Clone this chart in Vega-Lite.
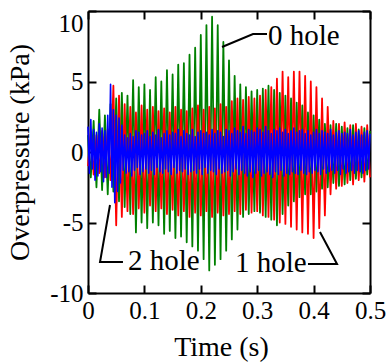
{
  "$schema": "https://vega.github.io/schema/vega-lite/v6.json",
  "autosize": {"type": "none"},
  "padding": {"left": 88, "top": 11, "right": 21, "bottom": 69},
  "width": 282,
  "height": 282,
  "background": "white",
  "config": {
    "font": "Liberation Serif",
    "view": {"stroke": null},
    "axis": {
      "grid": false,
      "domainColor": "black",
      "domainWidth": 2,
      "tickColor": "black",
      "tickWidth": 2,
      "tickSize": -8,
      "labelFont": "Liberation Serif",
      "labelFontSize": 25,
      "labelColor": "black",
      "labelPadding": 13,
      "titleFont": "Liberation Serif",
      "titleFontSize": 28,
      "titleFontWeight": "normal",
      "titleColor": "black"
    }
  },
  "datasets": {
    "main": [
      {"t":0,"g":1.2,"r":-1.0},{"t":0.005,"g":-1.8,"r":1.4},{"t":0.01,"g":2.2,"r":-1.6},{"t":0.015,"g":-2.5,"r":1.2},
      {"t":0.02,"g":3.0,"r":-1.5},{"t":0.025,"g":-2.7,"r":1.5},{"t":0.03,"g":2.6,"r":-1.8},{"t":0.035,"g":-3.0,"r":1.6},
      {"t":0.04,"g":3.4,"r":-2.0},{"t":0.045,"g":-2.8,"r":4.7},{"t":0.05,"g":3.8,"r":-5.2},{"t":0.055,"g":-3.5,"r":4.0},
      {"t":0.06,"g":4.2,"r":-4.6},{"t":0.065,"g":-3.9,"r":3.4},{"t":0.07,"g":4.0,"r":-4.2},{"t":0.075,"g":-4.4,"r":3.2},
      {"t":0.08,"g":5.1,"r":-4.4},{"t":0.085,"g":-5.7,"r":2.8},{"t":0.09,"g":4.6,"r":-4.0},{"t":0.095,"g":-5.0,"r":3.3},
      {"t":0.1,"g":4.8,"r":-4.3},{"t":0.105,"g":-5.4,"r":3.0},{"t":0.11,"g":4.4,"r":-3.8},{"t":0.115,"g":-5.0,"r":3.2},
      {"t":0.12,"g":5.3,"r":-4.2},{"t":0.125,"g":-5.2,"r":2.9},{"t":0.13,"g":5.0,"r":-4.0},{"t":0.135,"g":-5.8,"r":3.1},
      {"t":0.14,"g":5.8,"r":-4.4},{"t":0.145,"g":-5.6,"r":2.8},{"t":0.15,"g":5.5,"r":-4.1},{"t":0.155,"g":-6.1,"r":3.2},
      {"t":0.16,"g":6.2,"r":-4.5},{"t":0.165,"g":-6.0,"r":3.0},{"t":0.17,"g":6.3,"r":-4.2},{"t":0.175,"g":-6.4,"r":2.9},
      {"t":0.18,"g":6.9,"r":-4.6},{"t":0.185,"g":-6.7,"r":3.1},{"t":0.19,"g":7.4,"r":-4.3},{"t":0.195,"g":-7.0,"r":3.3},
      {"t":0.2,"g":8.3,"r":-4.5},{"t":0.205,"g":-7.6,"r":3.0},{"t":0.21,"g":9.0,"r":-4.2},{"t":0.215,"g":-8.4,"r":3.2},
      {"t":0.22,"g":9.6,"r":-4.6},{"t":0.225,"g":-8.0,"r":3.1},{"t":0.23,"g":9.0,"r":-4.3},{"t":0.235,"g":-7.6,"r":3.4},
      {"t":0.24,"g":7.8,"r":-4.5},{"t":0.245,"g":-7.0,"r":3.2},{"t":0.25,"g":6.5,"r":-4.4},{"t":0.255,"g":-6.2,"r":3.6},
      {"t":0.26,"g":5.4,"r":-4.2},{"t":0.265,"g":-5.5,"r":3.8},{"t":0.27,"g":4.8,"r":-4.4},{"t":0.275,"g":-4.6,"r":3.7},
      {"t":0.28,"g":4.6,"r":-4.1},{"t":0.285,"g":-4.4,"r":3.9},{"t":0.29,"g":4.3,"r":-4.3},{"t":0.295,"g":-4.2,"r":3.8},
      {"t":0.3,"g":4.4,"r":-4.2},{"t":0.305,"g":-4.3,"r":4.0},{"t":0.31,"g":4.5,"r":-4.5},{"t":0.315,"g":-4.6,"r":4.4},
      {"t":0.32,"g":4.7,"r":-4.6},{"t":0.325,"g":-4.8,"r":4.6},{"t":0.33,"g":4.4,"r":-4.8},{"t":0.335,"g":-5.2,"r":5.2},
      {"t":0.34,"g":4.2,"r":-5.0},{"t":0.345,"g":-4.4,"r":5.7},{"t":0.35,"g":4.0,"r":-5.1},{"t":0.355,"g":-3.8,"r":5.3},
      {"t":0.36,"g":3.8,"r":-5.3},{"t":0.365,"g":-3.5,"r":5.7},{"t":0.37,"g":3.5,"r":-5.5},{"t":0.375,"g":-3.2,"r":5.7},
      {"t":0.38,"g":3.3,"r":-5.7},{"t":0.385,"g":-3.0,"r":5.4},{"t":0.39,"g":2.8,"r":-5.8},{"t":0.395,"g":-3.0,"r":5.0},
      {"t":0.4,"g":2.6,"r":-6.1},{"t":0.405,"g":-2.8,"r":4.6},{"t":0.41,"g":2.3,"r":-5.4},{"t":0.415,"g":-2.6,"r":3.8},
      {"t":0.42,"g":2.0,"r":-4.5},{"t":0.425,"g":-2.5,"r":3.2},{"t":0.43,"g":1.9,"r":-3.0},{"t":0.435,"g":-2.2,"r":2.2},
      {"t":0.44,"g":2.0,"r":-2.6},{"t":0.445,"g":-2.4,"r":2.0},{"t":0.45,"g":1.8,"r":-2.4},{"t":0.455,"g":-2.3,"r":2.1},
      {"t":0.46,"g":1.7,"r":-2.2},{"t":0.465,"g":-2.0,"r":1.9},{"t":0.47,"g":1.9,"r":-2.3},{"t":0.475,"g":-1.9,"r":2.0},
      {"t":0.48,"g":1.6,"r":-2.0},{"t":0.485,"g":-1.8,"r":1.8},{"t":0.49,"g":1.7,"r":-2.1},{"t":0.495,"g":-1.6,"r":1.9},
      {"t":0.5,"g":1.5,"r":-1.8}
    ],
    "blue": [
      {"t":0,"b":1.8},{"t":0.0025,"b":-1.5},{"t":0.005,"b":2.3},{"t":0.0075,"b":-1.2},{"t":0.01,"b":1.6},
      {"t":0.0125,"b":-2.0},{"t":0.015,"b":1.4},{"t":0.0175,"b":-1.7},{"t":0.02,"b":2.0},{"t":0.0225,"b":-1.4},
      {"t":0.025,"b":1.7},{"t":0.0275,"b":-2.1},{"t":0.03,"b":1.5},{"t":0.0325,"b":-1.8},{"t":0.035,"b":2.6},
      {"t":0.0375,"b":-1.5},{"t":0.04,"b":4.8},{"t":0.0425,"b":-2.5},{"t":0.045,"b":3.0},{"t":0.0475,"b":-3.6},
      {"t":0.05,"b":2.6},{"t":0.0525,"b":-2.8},{"t":0.055,"b":2.4},{"t":0.0575,"b":-2.2},{"t":0.06,"b":1.9},
      {"t":0.0625,"b":-1.3},{"t":0.065,"b":1.2},{"t":0.0675,"b":-1.5},{"t":0.07,"b":1.0},{"t":0.0725,"b":-1.4},
      {"t":0.075,"b":1.3},{"t":0.0775,"b":-1.7},{"t":0.08,"b":1.1},{"t":0.0825,"b":-1.3},{"t":0.085,"b":1.5},
      {"t":0.0875,"b":-1.1},{"t":0.09,"b":1.4},{"t":0.0925,"b":-1.6},{"t":0.095,"b":1.2},{"t":0.0975,"b":-1.4},
      {"t":0.1,"b":1.3},{"t":0.1025,"b":-1.2},{"t":0.105,"b":1.5},{"t":0.1075,"b":-1.5},{"t":0.11,"b":1.1},
      {"t":0.1125,"b":-1.3},{"t":0.115,"b":1.4},{"t":0.1175,"b":-1.6},{"t":0.12,"b":1.2},{"t":0.1225,"b":-1.1},
      {"t":0.125,"b":1.6},{"t":0.1275,"b":-1.4},{"t":0.13,"b":1.0},{"t":0.1325,"b":-1.5},{"t":0.135,"b":1.3},
      {"t":0.1375,"b":-1.2},{"t":0.14,"b":1.5},{"t":0.1425,"b":-1.4},{"t":0.145,"b":1.2},{"t":0.1475,"b":-1.6},
      {"t":0.15,"b":1.4},{"t":0.1525,"b":-1.1},{"t":0.155,"b":1.3},{"t":0.1575,"b":-1.5},{"t":0.16,"b":1.6},
      {"t":0.1625,"b":-1.3},{"t":0.165,"b":1.1},{"t":0.1675,"b":-1.4},{"t":0.17,"b":1.5},{"t":0.1725,"b":-1.2},
      {"t":0.175,"b":1.3},{"t":0.1775,"b":-1.6},{"t":0.18,"b":1.2},{"t":0.1825,"b":-1.4},{"t":0.185,"b":1.6},
      {"t":0.1875,"b":-1.3},{"t":0.19,"b":1.1},{"t":0.1925,"b":-1.5},{"t":0.195,"b":1.4},{"t":0.1975,"b":-1.2},
      {"t":0.2,"b":1.5},{"t":0.2025,"b":-1.6},{"t":0.205,"b":1.3},{"t":0.2075,"b":-1.1},{"t":0.21,"b":1.4},
      {"t":0.2125,"b":-1.5},{"t":0.215,"b":1.2},{"t":0.2175,"b":-1.3},{"t":0.22,"b":1.6},{"t":0.2225,"b":-1.4},
      {"t":0.225,"b":1.3},{"t":0.2275,"b":-1.6},{"t":0.23,"b":1.5},{"t":0.2325,"b":-1.2},{"t":0.235,"b":1.4},
      {"t":0.2375,"b":-1.5},{"t":0.24,"b":1.1},{"t":0.2425,"b":-1.4},{"t":0.245,"b":1.6},{"t":0.2475,"b":-1.3},
      {"t":0.25,"b":1.5},{"t":0.2525,"b":-1.7},{"t":0.255,"b":1.3},{"t":0.2575,"b":-1.4},{"t":0.26,"b":1.7},
      {"t":0.2625,"b":-1.2},{"t":0.265,"b":1.5},{"t":0.2675,"b":-1.6},{"t":0.27,"b":1.4},{"t":0.2725,"b":-1.3},
      {"t":0.275,"b":1.8},{"t":0.2775,"b":-1.5},{"t":0.28,"b":1.3},{"t":0.2825,"b":-1.7},{"t":0.285,"b":1.6},
      {"t":0.2875,"b":-1.4},{"t":0.29,"b":1.5},{"t":0.2925,"b":-1.8},{"t":0.295,"b":1.4},{"t":0.2975,"b":-1.5},
      {"t":0.3,"b":1.7},{"t":0.3025,"b":-1.3},{"t":0.305,"b":1.6},{"t":0.3075,"b":-1.7},{"t":0.31,"b":1.4},
      {"t":0.3125,"b":-1.5},{"t":0.315,"b":1.8},{"t":0.3175,"b":-1.4},{"t":0.32,"b":1.5},{"t":0.3225,"b":-1.6},
      {"t":0.325,"b":1.3},{"t":0.3275,"b":-1.8},{"t":0.33,"b":1.6},{"t":0.3325,"b":-1.4},{"t":0.335,"b":1.5},
      {"t":0.3375,"b":-1.6},{"t":0.34,"b":1.7},{"t":0.3425,"b":-1.3},{"t":0.345,"b":1.4},{"t":0.3475,"b":-1.7},
      {"t":0.35,"b":1.6},{"t":0.3525,"b":-1.5},{"t":0.355,"b":1.3},{"t":0.3575,"b":-1.6},{"t":0.36,"b":1.5},
      {"t":0.3625,"b":-1.4},{"t":0.365,"b":1.7},{"t":0.3675,"b":-1.5},{"t":0.37,"b":1.4},{"t":0.3725,"b":-1.6},
      {"t":0.375,"b":1.5},{"t":0.3775,"b":-1.3},{"t":0.38,"b":1.6},{"t":0.3825,"b":-1.5},{"t":0.385,"b":1.3},
      {"t":0.3875,"b":-1.6},{"t":0.39,"b":1.5},{"t":0.3925,"b":-1.4},{"t":0.395,"b":1.2},{"t":0.3975,"b":-1.5},
      {"t":0.4,"b":1.4},{"t":0.4025,"b":-1.3},{"t":0.405,"b":1.6},{"t":0.4075,"b":-1.4},{"t":0.41,"b":1.3},
      {"t":0.4125,"b":-1.6},{"t":0.415,"b":1.5},{"t":0.4175,"b":-1.2},{"t":0.42,"b":1.4},{"t":0.4225,"b":-1.5},
      {"t":0.425,"b":1.3},{"t":0.4275,"b":-1.4},{"t":0.43,"b":1.6},{"t":0.4325,"b":-1.3},{"t":0.435,"b":1.2},
      {"t":0.4375,"b":-1.5},{"t":0.44,"b":1.4},{"t":0.4425,"b":-1.3},{"t":0.445,"b":1.5},{"t":0.4475,"b":-1.6},
      {"t":0.45,"b":1.3},{"t":0.4525,"b":-1.2},{"t":0.455,"b":1.4},{"t":0.4575,"b":-1.5},{"t":0.46,"b":1.3},
      {"t":0.4625,"b":-1.4},{"t":0.465,"b":1.6},{"t":0.4675,"b":-1.3},{"t":0.47,"b":1.2},{"t":0.4725,"b":-1.5},
      {"t":0.475,"b":1.4},{"t":0.4775,"b":-1.3},{"t":0.48,"b":1.5},{"t":0.4825,"b":-1.4},{"t":0.485,"b":1.2},
      {"t":0.4875,"b":-1.5},{"t":0.49,"b":1.4},{"t":0.4925,"b":-1.3},{"t":0.495,"b":1.5},{"t":0.4975,"b":-1.2},
      {"t":0.5,"b":1.3}
    ],
    "leaders": [
      {"id":"a","o":1,"t":0.2376,"v":7.45},{"id":"a","o":2,"t":0.2926,"v":8.37},{"id":"a","o":3,"t":0.3174,"v":8.37},
      {"id":"b","o":1,"t":0.039,"v":-3.76},{"id":"b","o":2,"t":0.0213,"v":-7.8},{"id":"b","o":3,"t":0.062,"v":-7.8},
      {"id":"c","o":1,"t":0.39,"v":-7.94},{"id":"c","o":2,"t":0.4415,"v":-7.94},{"id":"c","o":3,"t":0.4113,"v":-5.67}
    ],
    "labels": [
      {"label":"0 hole","t":0.319,"v":8.2},
      {"label":"2 hole","t":0.071,"v":-7.73},
      {"label":"1 hole","t":0.2606,"v":-7.84}
    ]
  },
  "resolve": {"axis": {"x": "independent", "y": "independent"}},
  "layer": [
    {
      "data": {"name": "main"},
      "mark": {"type": "line", "color": "#008000", "strokeWidth": 1.8, "strokeJoin": "round"},
      "encoding": {
        "x": {"field": "t", "type": "quantitative", "scale": {"domain": [0, 0.5], "nice": false},
          "axis": {"orient": "bottom", "title": "Time (s)", "values": [0, 0.1, 0.2, 0.3, 0.4, 0.5], "labelExpr": "toString(datum.value)", "labelFlush": false, "titlePadding": 10, "titleX": 133}},
        "y": {"field": "g", "type": "quantitative", "scale": {"domain": [-10, 10], "nice": false},
          "axis": {"orient": "left", "title": "Overpressure (kPa)", "values": [-10, -5, 0, 5, 10], "labelExpr": "toString(datum.value)", "titlePadding": 15,
            "labelBaseline": {"condition": {"test": "datum.value == 10", "value": "top"}, "value": "middle"}}}
      }
    },
    {
      "data": {"name": "main"},
      "mark": {"type": "line", "color": "#ff0000", "strokeWidth": 1.8, "strokeJoin": "round"},
      "encoding": {
        "x": {"field": "t", "type": "quantitative", "scale": {"domain": [0, 0.5], "nice": false}, "axis": null},
        "y": {"field": "r", "type": "quantitative", "scale": {"domain": [-10, 10], "nice": false}, "axis": null}
      }
    },
    {
      "data": {"name": "blue"},
      "mark": {"type": "line", "color": "#0000ff", "strokeWidth": 1.6, "strokeJoin": "round"},
      "encoding": {
        "x": {"field": "t", "type": "quantitative", "scale": {"domain": [0, 0.5], "nice": false},
          "axis": {"orient": "top", "labels": false, "title": null, "values": [0, 0.1, 0.2, 0.3, 0.4, 0.5]}},
        "y": {"field": "b", "type": "quantitative", "scale": {"domain": [-10, 10], "nice": false},
          "axis": {"orient": "right", "labels": false, "title": null, "values": [-10, -5, 0, 5, 10]}}
      }
    },
    {
      "data": {"name": "leaders"},
      "mark": {"type": "line", "color": "black", "strokeWidth": 2},
      "encoding": {
        "x": {"field": "t", "type": "quantitative", "scale": {"domain": [0, 0.5], "nice": false}, "axis": null},
        "y": {"field": "v", "type": "quantitative", "scale": {"domain": [-10, 10], "nice": false}, "axis": null},
        "detail": {"field": "id"},
        "order": {"field": "o"}
      }
    },
    {
      "data": {"name": "labels"},
      "mark": {"type": "text", "align": "left", "baseline": "middle", "font": "Liberation Serif", "fontSize": 29, "color": "black"},
      "encoding": {
        "x": {"field": "t", "type": "quantitative", "scale": {"domain": [0, 0.5], "nice": false}, "axis": null},
        "y": {"field": "v", "type": "quantitative", "scale": {"domain": [-10, 10], "nice": false}, "axis": null},
        "text": {"field": "label"}
      }
    }
  ]
}
